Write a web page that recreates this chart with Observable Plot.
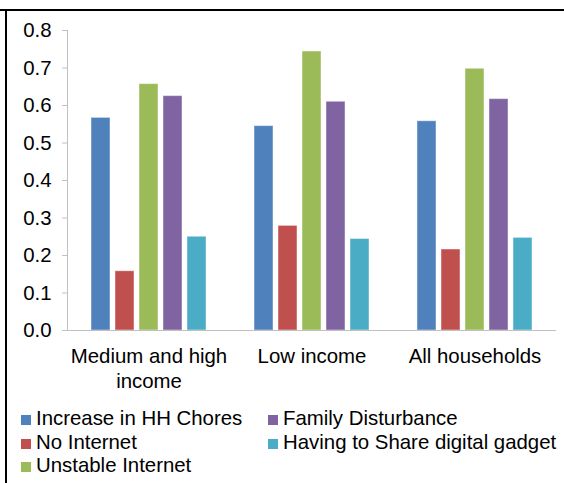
<!DOCTYPE html>
<html>
<head>
<meta charset="utf-8">
<script src="https://cdn.jsdelivr.net/npm/d3@7"></script>
<script src="https://cdn.jsdelivr.net/npm/@observablehq/plot@0.6"></script>
<style>
html, body { margin: 0; padding: 0; background: #fff; }
body { width: 564px; height: 483px; position: relative; overflow: hidden; font-family: "Liberation Sans", Arial, sans-serif; }
#topline { position: absolute; left: 0; top: 9px; width: 564px; height: 2px; background: #000; }
#leftline { position: absolute; left: 5px; top: 9px; width: 2px; height: 474px; background: #000; }
#chart { position: absolute; left: 0; top: 0; }
.item { position: absolute; font-size: 20.4px; line-height: 23.5px; white-space: nowrap; color: #000; }
.sw { position: absolute; width: 10px; height: 10px; }
</style>
</head>
<body>
<div id="topline"></div>
<div id="leftline"></div>
<div id="chart"></div>
<div id="legend"></div>
<script>
const groups = ["Medium and high income", "Low income", "All households"];
const groupLabels = ["Medium and high\nincome", "Low income", "All households"];
const series = ["Increase in HH Chores", "No Internet", "Unstable Internet", "Family Disturbance", "Having to Share digital gadget"];
const colors = ["#4f81bd", "#c0504d", "#9bbb59", "#8064a2", "#4bacc6"];
const hhChores = [0.567, 0.545, 0.558];
const noInternet = [0.158, 0.279, 0.216];
const unstableInternet = [0.657, 0.744, 0.698];
const familyDisturbance = [0.625, 0.610, 0.617];
const shareGadget = [0.250, 0.244, 0.247];
const yTicks = [0, 0.1, 0.2, 0.3, 0.4, 0.5, 0.6, 0.7, 0.8];

const seriesValues = [hhChores, noInternet, unstableInternet, familyDisturbance, shareGadget];
const rows = [];
groups.forEach((g, gi) => {
  series.forEach((s, si) => rows.push({group: g, series: s, value: seriesValues[si][gi]}));
});

const chart = Plot.plot({
  width: 564,
  height: 400,
  marginLeft: 67,
  marginRight: 8,
  marginTop: 30,
  marginBottom: 70,
  style: {fontFamily: "'Liberation Sans', Arial, sans-serif", fontSize: "20.4px", color: "#000", background: "transparent"},
  fx: {domain: groups, padding: 0, label: null},
  x: {domain: series, paddingInner: 0.21, paddingOuter: 0.905, axis: null},
  y: {domain: [0, 0.8]},
  color: {domain: series, range: colors},
  marks: [
    Plot.barY(rows, {fx: "group", x: "series", y: "value", fill: "series", stroke: "#fff", strokeOpacity: 0.45, strokeWidth: 1}),
    Plot.ruleY([0], {stroke: "#c0c0c0", strokeWidth: 1.2}),
    Plot.axisY(yTicks, {tickSize: 5, tickPadding: 11, tickFormat: d3.format(".1f"), stroke: "#c0c0c0", fill: "#000", label: null}),
    Plot.frame({anchor: "left", stroke: "#c0c0c0", facetAnchor: "left"}),
    Plot.axisFx({anchor: "bottom", tickSize: 0, tickPadding: 14, lineHeight: 1.25, fill: "#000", label: null,
      tickFormat: g => groupLabels[groups.indexOf(g)]})
  ]
});
document.getElementById("chart").appendChild(chart);

const legend = document.getElementById("legend");
series.forEach((s, i) => {
  const col = Math.floor(i / 3), row = i % 3;
  const left = [21, 268][col];
  const top = 407 + row * 23.5;
  const sw = document.createElement("div");
  sw.className = "sw";
  sw.style.left = left + "px";
  sw.style.top = (top + 8) + "px";
  sw.style.background = colors[i];
  legend.appendChild(sw);
  const t = document.createElement("div");
  t.className = "item";
  t.style.left = (left + 15) + "px";
  t.style.top = top + "px";
  t.textContent = s;
  legend.appendChild(t);
});
</script>
</body>
</html>
